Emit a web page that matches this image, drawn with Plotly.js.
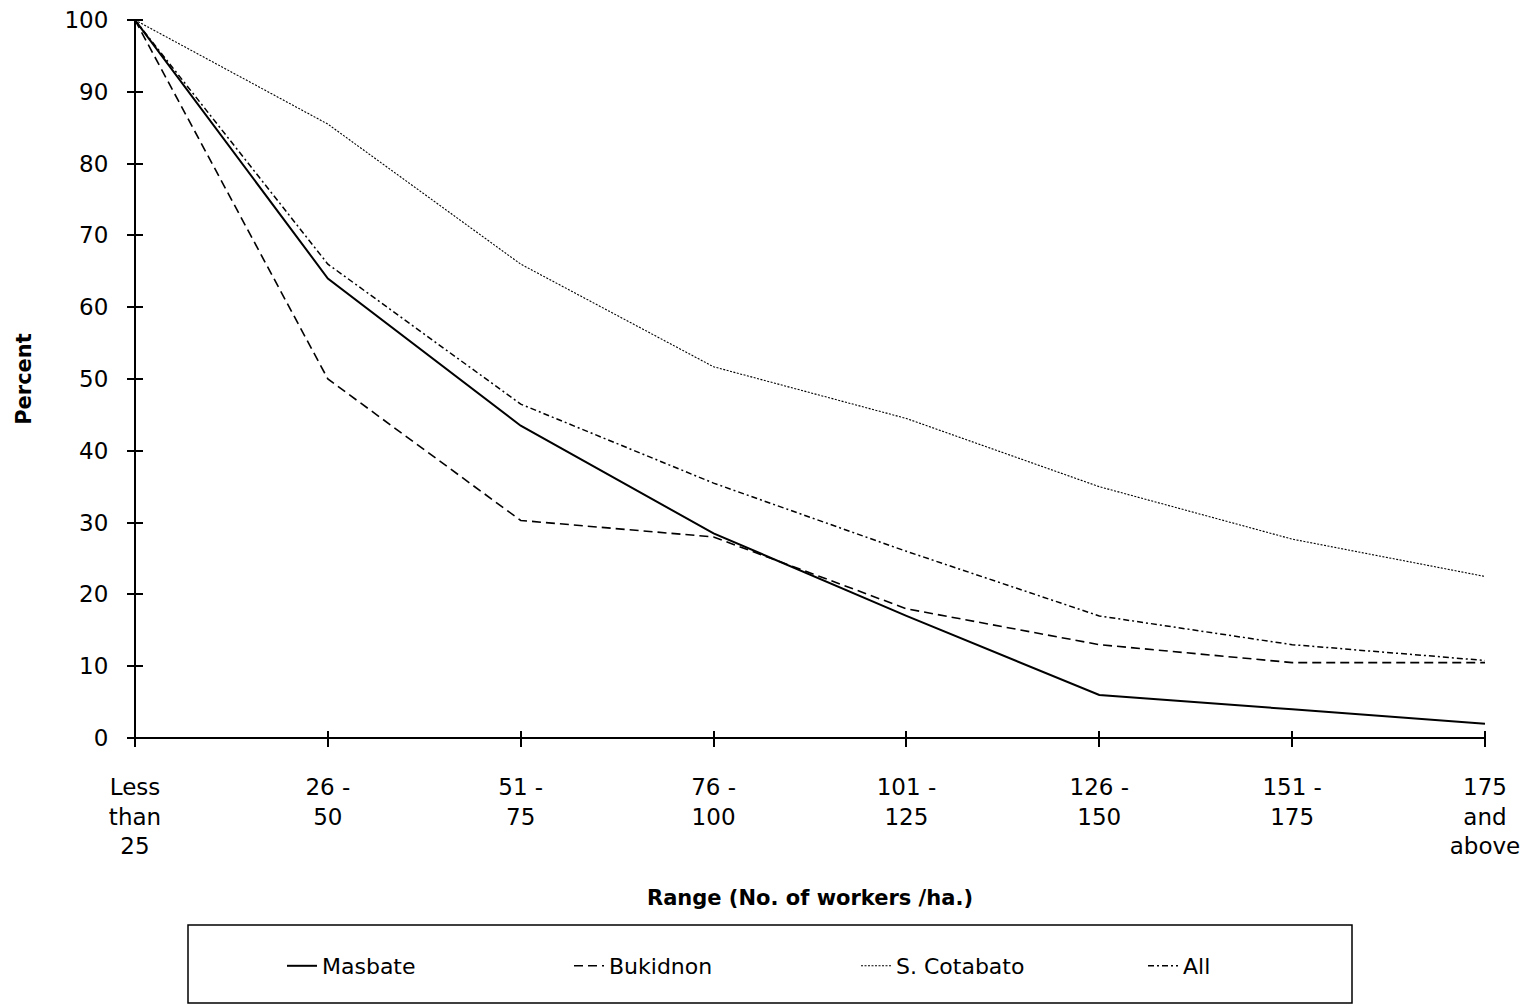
<!DOCTYPE html>
<html>
<head>
<meta charset="utf-8">
<script src="https://cdn.plot.ly/plotly-3.0.1.min.js"></script>
<style>html,body{margin:0;padding:0;background:#fff;}#chart{width:1527px;height:1004px;}</style>
</head>
<body>
<div id="chart"></div>
<script>
const categories = ["Less<br>than<br>25","26 -<br>50","51 -<br>75","76 -<br>100","101 -<br>125","126 -<br>150","151 -<br>175","175<br>and<br>above"];
const seriesNames = ["Masbate","Bukidnon","S. Cotabato","All"];
const masbate = [100,64,43.5,28.5,17,6,4,2];
const bukidnon = [100,50,30.3,28,18,13,10.5,10.5];
const sCotabato = [100,85.5,66,51.7,44.5,35,27.7,22.5];
const allRegions = [100,66,46.5,35.5,26,17,13,10.8];
const yTicks = [0,10,20,30,40,50,60,70,80,90,100];

const FONT = "DejaVu Sans, Liberation Sans, Arial, sans-serif";
const PLOT_W = 1350, PLOT_H = 718;
const styles = [
  {width:2, dash:"solid"},
  {width:1.6, dash:"9px,5px"},
  {width:1.1, dash:"2px,1.5px"},
  {width:1.5, dash:"6px,3px,2px,3px"}
];
const values = [masbate,bukidnon,sCotabato,allRegions];
const traces = values.map((v,i)=>({
  x: categories, y: v, name: seriesNames[i], type:"scatter", mode:"lines",
  line:{color:"#000", width:styles[i].width, dash:styles[i].dash}
}));

const layout = {
  width:1527, height:1004,
  margin:{l:135, r:42, t:20, b:266},
  paper_bgcolor:"#fff", plot_bgcolor:"#fff",
  font:{family:FONT, color:"#000", size:20},
  showlegend:true,
  xaxis:{
    type:"category", categoryorder:"array", categoryarray:categories,
    range:[0,7], showgrid:false, zeroline:false, showline:false,
    anchor:"free", position:8/PLOT_H,
    ticks:"outside", ticklen:16, tickwidth:2, tickcolor:"#000",
    tickfont:{family:FONT, size:23, color:"#000"},
    ticklabelstandoff:20,
    title:{text:"<b>Range (No. of workers /ha.)</b>", font:{family:FONT,size:21,color:"#000"}, standoff:31},
    automargin:false
  },
  yaxis:{
    range:[0,100], tickvals:yTicks, showgrid:false, zeroline:false, showline:false,
    anchor:"free", position:8/PLOT_W,
    ticks:"outside", ticklen:16, tickwidth:2, tickcolor:"#000",
    tickfont:{family:FONT, size:23, color:"#000"},
    ticklabelstandoff:14,
    title:{text:"<b>Percent</b>", font:{family:FONT,size:21,color:"#000"}, standoff:26},
    automargin:false
  },
  legend:{
    orientation:"h", x:(282-135)/PLOT_W, xanchor:"left", y:(738-966)/PLOT_H, yanchor:"middle",
    entrywidth:242, entrywidthmode:"pixels", borderwidth:0, bgcolor:"rgba(0,0,0,0)",
    font:{family:FONT, size:22, color:"#000"}
  },
  shapes:[
    {type:"line", xref:"paper", yref:"paper", x0:0, x1:0, y0:0, y1:1, line:{color:"#000", width:2}},
    {type:"line", xref:"paper", yref:"paper", x0:0, x1:1, y0:0, y1:0, line:{color:"#000", width:2}},
    {type:"rect", xref:"paper", yref:"paper",
    x0:(188-135)/PLOT_W, x1:(1352-135)/PLOT_W, y0:(738-925)/PLOT_H, y1:(738-1003)/PLOT_H,
    line:{color:"#000", width:1.5}, fillcolor:"rgba(0,0,0,0)"}]
};
Plotly.newPlot("chart", traces, layout, {displayModeBar:false, staticPlot:true});
</script>
</body>
</html>
